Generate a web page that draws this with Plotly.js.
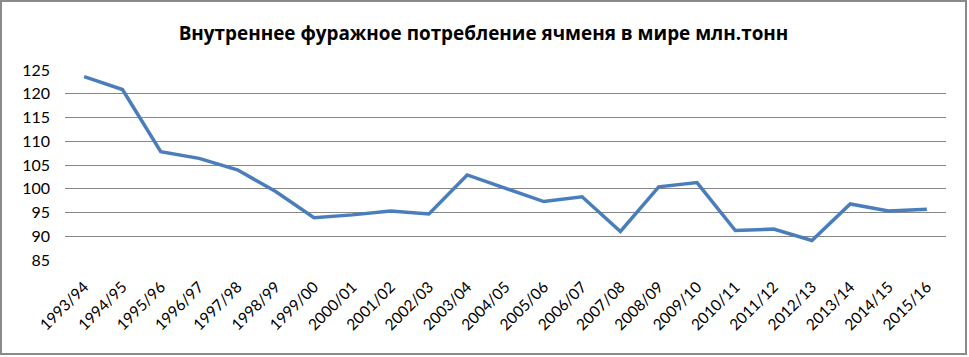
<!DOCTYPE html>
<html><head><meta charset="utf-8">
<script src="https://cdn.plot.ly/plotly-3.0.1.min.js"></script>
<style>
html,body{margin:0;padding:0;background:#fff;}
#chart{width:963px;height:351px;border:2px solid #8a8a8a;}
</style></head>
<body><div id="chart"></div>
<script>
const seasons = ["1993/94","1994/95","1995/96","1996/97","1997/98","1998/99","1999/00","2000/01","2001/02","2002/03","2003/04","2004/05","2005/06","2006/07","2007/08","2008/09","2009/10","2010/11","2011/12","2012/13","2013/14","2014/15","2015/16"];
const consumption = [123.6,120.9,107.8,106.4,104.0,99.4,93.9,94.5,95.3,94.7,102.9,100.1,97.3,98.3,91.0,100.4,101.3,91.2,91.5,89.1,96.8,95.3,95.7];
const yTicks = [85,90,95,100,105,110,115,120,125];
const chartTitle = "Внутреннее фуражное потребление ячменя в мире млн.тонн";

Plotly.newPlot('chart', [{
  x: seasons, y: consumption, type: 'scatter', mode: 'lines',
  line: {color: '#4a7ebb', width: 3.5}, hoverinfo: 'skip'
}], {
  width: 963, height: 351,
  margin: {l: 63, r: 19, t: 68, b: 93},
  paper_bgcolor: '#fff', plot_bgcolor: '#fff',
  font: {family: 'Lato, "Open Sans", sans-serif', color: '#000'},
  title: {text: '<b>' + chartTitle + '</b>', x: 0.5, xanchor: 'center', y: 0.91, yanchor: 'middle',
          font: {size: 18.9, family: '"Open Sans", sans-serif', color: '#000'}},
  xaxis: {type: 'category', range: [-0.5, seasons.length - 0.5], tickangle: -45,
          showgrid: false, showline: false, zeroline: false, ticks: '',
          tickfont: {size: 15.5}, ticklabelstandoff: 14, automargin: false},
  yaxis: {range: [85, 125], tickvals: yTicks, showgrid: true, gridcolor: '#868686', gridwidth: 1,
          zeroline: false, showline: false, ticks: '', tickfont: {size: 16}, ticklabelstandoff: 14,
          automargin: false},
  showlegend: false
}, {staticPlot: true, displayModeBar: false});
</script></body></html>
